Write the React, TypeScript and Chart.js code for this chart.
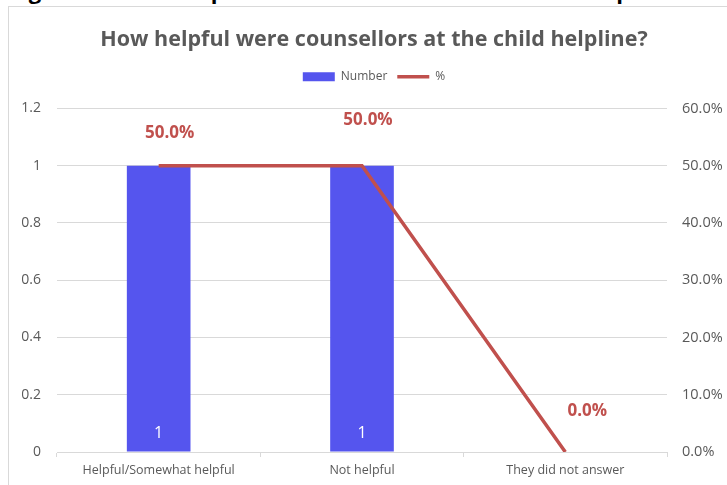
import React, { useEffect, useRef } from "react";
import { Chart, registerables } from "chart.js";

Chart.register(...registerables);

const categories = ["Helpful/Somewhat helpful", "Not helpful", "They did not answer"];
const numberValues = [1, 1, 0];
const percentValues = [50, 50, 0];
const leftTicks = [0, 0.2, 0.4, 0.6, 0.8, 1, 1.2];
const rightTicks = [0, 10, 20, 30, 40, 50, 60];
const title = "How helpful were counsellors at the child helpline?";
const caption = "Figure 16: How helpful were counsellors at the child helpline?";

const BLUE = "#5555EE";
const RED = "#C0504D";
const GRAY = "#595959";
const GRID = "#D9D9D9";
const FONT = "'Open Sans', Lato, sans-serif";

// label offsets relative to the line points (Excel-style placement)
const pctLabelOffsets = [
  [11, -33],
  [6, -46],
  [22, -41],
];

const labelPlugin = {
  id: "valueLabels",
  afterDatasetsDraw(chart: any) {
    const ctx = chart.ctx;
    ctx.save();
    const barMeta = chart.getDatasetMeta(0);
    ctx.fillStyle = "#FFFFFF";
    ctx.font = `16px ${FONT}`;
    ctx.textAlign = "center";
    ctx.textBaseline = "middle";
    barMeta.data.forEach((el: any, i: number) => {
      if (!numberValues[i]) return;
      ctx.fillText(String(numberValues[i]), el.x, el.base - 18);
    });
    const lineMeta = chart.getDatasetMeta(1);
    ctx.fillStyle = RED;
    ctx.font = `bold 17px ${FONT}`;
    lineMeta.data.forEach((el: any, i: number) => {
      const [dx, dy] = pctLabelOffsets[i];
      ctx.fillText(percentValues[i].toFixed(1) + "%", el.x + dx, el.y + dy);
    });
    ctx.restore();
  },
};

const legendGapPlugin = {
  id: "legendGap",
  beforeLayout(chart: any) {
    const lg = chart.legend;
    if (lg && !lg._gapPatched) {
      const orig = lg.fit.bind(lg);
      lg.fit = function () {
        orig();
        this.height += 15.7;
      };
      lg._gapPatched = true;
    }
  },
};

export default function App() {
  const ref = useRef<HTMLCanvasElement | null>(null);
  useEffect(() => {
    if (!ref.current) return;
    const chart = new Chart(ref.current, {
      type: "bar",
      data: {
        labels: categories,
        datasets: [
          {
            type: "bar",
            label: "Number",
            data: numberValues,
            backgroundColor: BLUE,
            yAxisID: "y",
            order: 1,
            categoryPercentage: 1,
            barPercentage: 0.313,
          },
          {
            type: "line",
            label: "%",
            data: percentValues,
            borderColor: RED,
            backgroundColor: RED,
            borderWidth: 3.5,
            pointRadius: 0,
            tension: 0,
            yAxisID: "y1",
            order: 0,
          } as any,
        ],
      },
      options: {
        responsive: false,
        animation: false,
        layout: { padding: { top: 0, left: 0, right: 0, bottom: 0 } },
        plugins: {
          tooltip: { enabled: false },
          title: {
            display: true,
            text: title,
            color: GRAY,
            font: { family: FONT, size: 21.5, weight: "bold", lineHeight: 1.2 },
            padding: { top: 20, bottom: 8 },
          },
          legend: {
            display: true,
            position: "top",
            labels: {
              color: GRAY,
              font: { family: FONT, size: 12 },
              usePointStyle: true,
              pointStyleWidth: 32,
              boxHeight: 9,
              padding: 10,
              generateLabels: () => [
                {
                  text: "Number",
                  fillStyle: BLUE,
                  strokeStyle: BLUE,
                  lineWidth: 0,
                  pointStyle: "rect",
                  datasetIndex: 0,
                  fontColor: GRAY,
                },
                {
                  text: "%",
                  fillStyle: RED,
                  strokeStyle: RED,
                  lineWidth: 3.5,
                  pointStyle: "line",
                  datasetIndex: 1,
                  fontColor: GRAY,
                },
              ],
            },
          },
        },
        scales: {
          x: {
            type: "category",
            offset: true,
            grid: {
              offset: true,
              drawOnChartArea: false,
              drawTicks: true,
              tickLength: 5,
              color: GRID,
            },
            border: { display: true, color: GRID },
            ticks: { color: GRAY, font: { family: FONT, size: 12.5 }, padding: 6, maxRotation: 0 },
            afterFit: (s: any) => {
              s.height = 33;
            },
          },
          y: {
            type: "linear",
            position: "left",
            min: 0,
            max: 1.2,
            afterBuildTicks: (s: any) => {
              s.ticks = leftTicks.map((v) => ({ value: v }));
            },
            grid: { color: GRID, drawTicks: false, lineWidth: 1 },
            border: { display: false },
            ticks: {
              color: GRAY,
              font: { family: FONT, size: 14 },
              padding: 16,
              callback: (v: any) => String(Number(Number(v).toFixed(1))),
            },
            afterFit: (s: any) => {
              s.width = 48;
            },
          },
          y1: {
            type: "linear",
            position: "right",
            min: 0,
            max: 60,
            afterBuildTicks: (s: any) => {
              s.ticks = rightTicks.map((v) => ({ value: v }));
            },
            grid: { display: false, drawTicks: false },
            border: { display: false },
            ticks: {
              color: GRAY,
              font: { family: FONT, size: 14.5 },
              padding: 15,
              callback: (v: any) => Number(v).toFixed(1) + "%",
            },
            afterFit: (s: any) => {
              s.width = 72;
            },
          },
        },
      },
      plugins: [labelPlugin, legendGapPlugin],
    } as any);
    return () => chart.destroy();
  }, []);

  return (
    <div
      style={{
        position: "fixed",
        left: 0,
        top: 0,
        width: 727,
        height: 485,
        overflow: "hidden",
        background: "#fff",
      }}
    >
      <div
        style={{
          position: "absolute",
          left: 10,
          top: -21,
          whiteSpace: "nowrap",
          font: `bold 22px ${FONT}`,
          lineHeight: "22px",
          color: "#000",
        }}
      >
        {caption}
      </div>
      <div
        style={{
          position: "absolute",
          left: 8,
          top: 6,
          width: 740,
          height: 500,
          border: `1px solid ${GRID}`,
          boxSizing: "border-box",
          background: "#fff",
        }}
      >
        <canvas ref={ref} width={730} height={478} style={{ display: "block" }} />
      </div>
    </div>
  );
}
